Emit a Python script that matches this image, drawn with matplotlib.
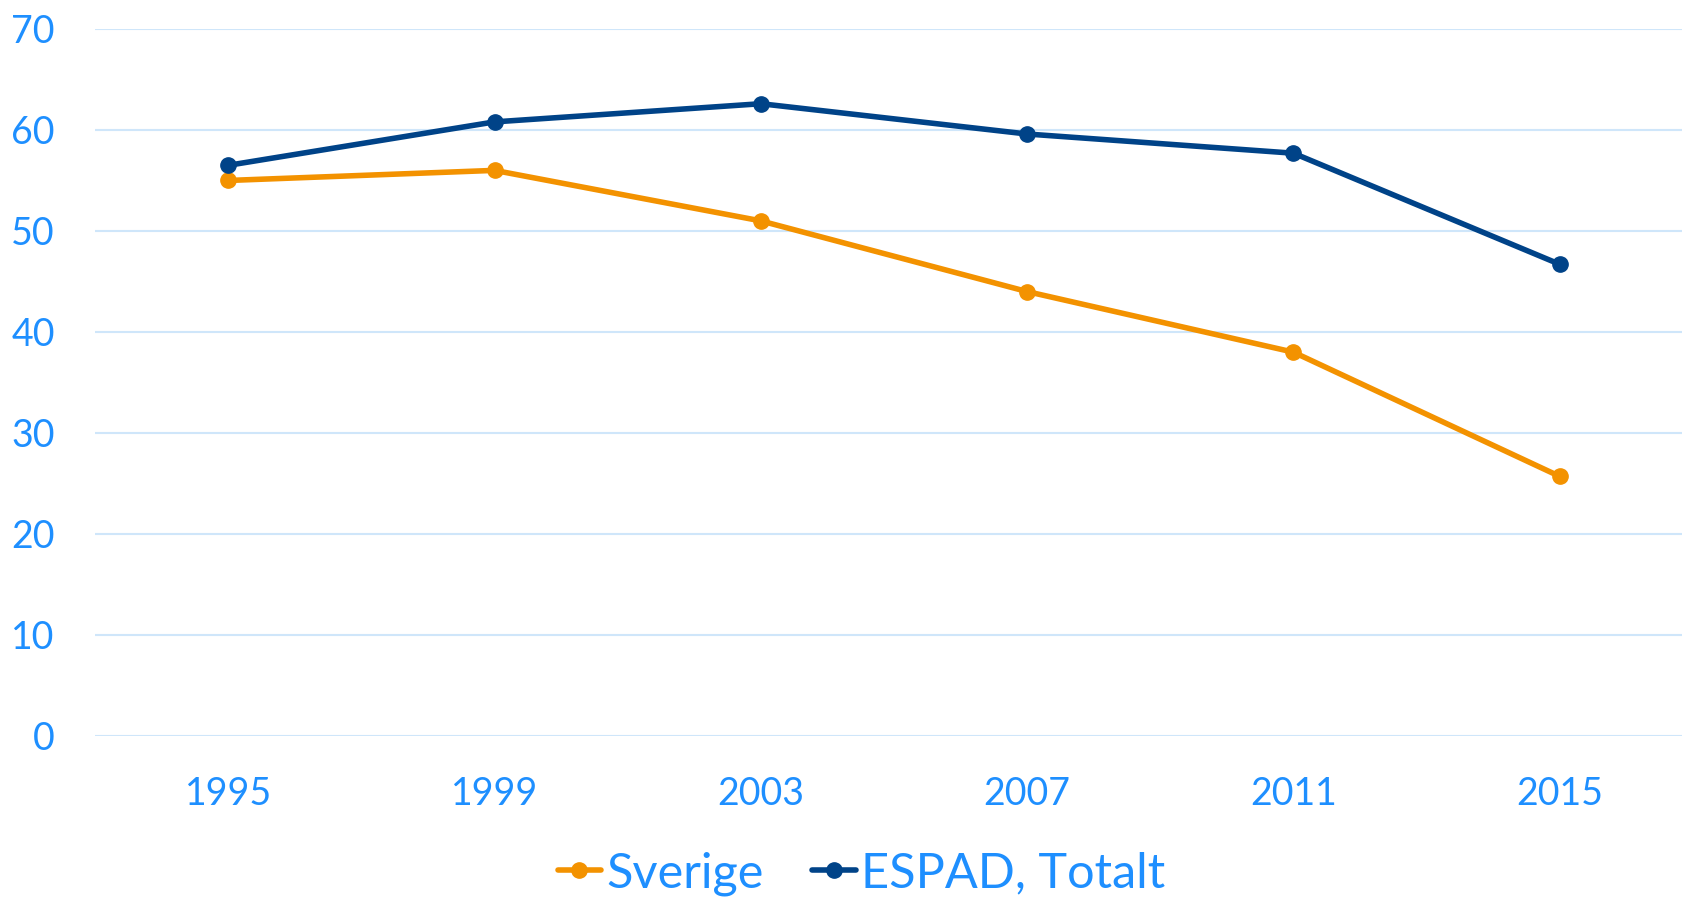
import matplotlib
matplotlib.use("Agg")
import matplotlib.pyplot as plt

# data
years = ["1995", "1999", "2003", "2007", "2011", "2015"]
sverige = [55.0, 56.0, 51.0, 44.0, 38.0, 25.7]
espad_totalt = [56.5, 60.8, 62.6, 59.6, 57.7, 46.7]
yticks = [0, 10, 20, 30, 40, 50, 60, 70]

label_color = "#1E8FFF"
orange = "#F39200"
darkblue = "#004388"
grid_color = "#CFE6FA"

plt.rcParams['font.family'] = ['Lato', 'DejaVu Sans']

fig = plt.figure(figsize=(16.82, 8.97), dpi=100)
ax = fig.add_axes([0.0565, 0.1795, 0.95, 0.7882])

x = range(len(years))
ax.plot(x, sverige, color=orange, lw=4, marker='o', ms=11, label="Sverige",
        solid_capstyle='round', zorder=3)
ax.plot(x, espad_totalt, color=darkblue, lw=4, marker='o', ms=11, label="ESPAD, Totalt",
        solid_capstyle='round', zorder=3)

ax.set_xlim(-0.5, len(years) - 0.5)
ax.set_ylim(0, 70)
ax.set_xticks(list(x))
ax.set_xticklabels(years)
ax.set_yticks(yticks)
ax.tick_params(axis='both', length=0, labelsize=27, labelcolor=label_color)
ax.tick_params(axis='y', pad=29)
ax.tick_params(axis='x', pad=29)
ax.yaxis.grid(True, color=grid_color, lw=1.5)
ax.set_axisbelow(True)
for s in ax.spines.values():
    s.set_visible(False)

leg = fig.legend(loc='center', bbox_to_anchor=(0.512, 0.026), ncol=2, frameon=False,
                 fontsize=35, handlelength=0.9, handletextpad=0.1, columnspacing=1.0)
for t in leg.get_texts():
    t.set_color(label_color)

fig.savefig("out.png", dpi=100)
